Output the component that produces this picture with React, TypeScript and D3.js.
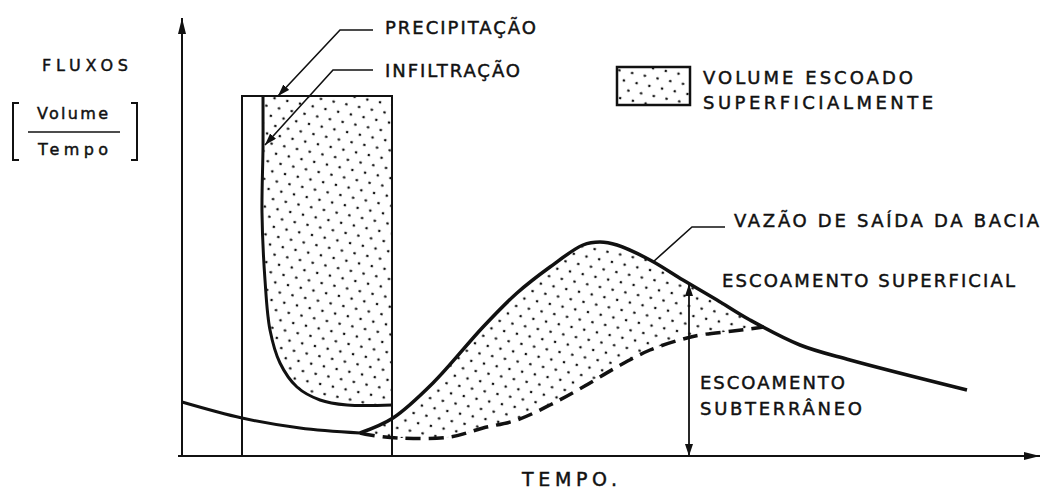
import * as d3 from 'd3';

// Hidrograma esquemático: precipitação, infiltração e escoamento
type Pt = [number, number]; // [tempo, vazão]

const rainStart = 6;
const rainEnd = 21;
const rainTop = 36;

const infiltration: Pt[] = [
  [8.1, 36], [8.1, 30.9], [8.0, 24.3], [8.3, 17.6], [8.8, 12.6],
  [9.8, 9.3], [11.5, 6.9], [13.8, 5.6], [16.5, 5.1], [21, 5.1],
];

const baseflowBefore: Pt[] = [
  [0, 5.4], [6, 3.8], [11.8, 2.8], [17.8, 2.3],
];

const baseflowDuring: Pt[] = [
  [17.8, 2.3], [18.8, 2.1], [21.8, 1.8], [26.8, 1.9], [30.1, 2.8],
  [33.5, 3.6], [36.8, 5.1], [40.1, 6.9], [43.5, 8.9], [46.8, 10.6],
  [50.1, 11.7], [51.8, 12.1], [55.1, 12.5], [58.2, 12.9],
];

const hydrograph: Pt[] = [
  [17.8, 2.3], [21.1, 3.8], [25.1, 7.3], [30.1, 12.9], [33.5, 16.3],
  [36.8, 18.9], [40.1, 21.1], [41.8, 21.4], [43.5, 21.1], [46.8, 19.6],
  [50.1, 17.6], [53.5, 15.6], [56.8, 13.6], [61.8, 11.1], [66.8, 9.6],
  [78.5, 6.6],
];

const arrowTime = 50.7;
const arrowTop = 17.2;
const runoffEnd = 58.2;

const x = d3.scaleLinear().domain([0, 86]).range([182, 1042]);
const y = d3.scaleLinear().domain([0, 36]).range([456, 96]);

const smooth = d3.line<Pt>().x(d => x(d[0])).y(d => y(d[1])).curve(d3.curveCatmullRom.alpha(0.5));
const straight = d3.line<Pt>().x(d => x(d[0])).y(d => y(d[1]));

const infiltArea = smooth(infiltration)! + 'L' + x(rainEnd) + ',' + y(rainTop) + 'Z';
const runoffArea = smooth(hydrograph)! + 'L' + smooth([...baseflowDuring].reverse())!.slice(1) + 'Z';

const INK = '#111';
const FONT = '"DejaVu Sans", sans-serif';

function Label({ t, q, w, size = 18, children }: { t: number; q: number; w: number; size?: number; children: string }) {
  return (
    <text x={x(t)} y={y(q)} fontSize={size} fontFamily={FONT} fill={INK} stroke={INK} strokeWidth={0.45}
      textLength={w} lengthAdjust="spacing">{children}</text>
  );
}

function Txt({ px, py, w, size = 18, children }: { px: number; py: number; w: number; size?: number; children: string }) {
  return (
    <text x={px} y={py} fontSize={size} fontFamily={FONT} fill={INK} stroke={INK} strokeWidth={0.45}
      textLength={w} lengthAdjust="spacing">{children}</text>
  );
}

export default function App() {
  return (
    <svg width={1046} height={490} style={{ position: 'absolute', left: 0, top: 0, background: '#fff' }}>
      <defs>
        <pattern id="dots" width={13} height={18} patternUnits="userSpaceOnUse" patternTransform="rotate(12)">
          <circle cx={3} cy={3} r={1.3} fill={INK} />
          <circle cx={9.5} cy={12} r={1.3} fill={INK} />
        </pattern>
        <clipPath id="runoffClip">
          <rect x={x(0)} y={0} width={x(runoffEnd) - x(0)} height={490} />
        </clipPath>
        <marker id="axisHead" markerUnits="userSpaceOnUse" markerWidth={18} markerHeight={10}
          refX={16} refY={4} orient="auto">
          <path d="M0,0 L16,4 L0,8 Z" fill={INK} />
        </marker>
        <marker id="head" markerUnits="userSpaceOnUse" markerWidth={14} markerHeight={10}
          refX={12} refY={4} orient="auto">
          <path d="M0,0 L12,4 L0,8 Z" fill={INK} />
        </marker>
        <marker id="headStart" markerUnits="userSpaceOnUse" markerWidth={14} markerHeight={10}
          refX={0} refY={4} orient="auto">
          <path d="M12,0 L0,4 L12,8 Z" fill={INK} />
        </marker>
      </defs>

      {/* areas pontilhadas */}
      <path d={infiltArea} fill="url(#dots)" />
      <path d={runoffArea} fill="url(#dots)" clipPath="url(#runoffClip)" />

      {/* eixos */}
      <line x1={x(0)} y1={y(0)} x2={x(0)} y2={y(43.8)} stroke={INK} strokeWidth={2} markerEnd="url(#axisHead)" />
      <line x1={x(-0.4)} y1={y(0)} x2={x(85.8)} y2={y(0)} stroke={INK} strokeWidth={2} markerEnd="url(#axisHead)" />

      {/* bloco de precipitação */}
      <path d={straight([[rainStart, 0], [rainStart, rainTop], [rainEnd, rainTop], [rainEnd, 0]])!}
        fill="none" stroke={INK} strokeWidth={2} />

      {/* curvas */}
      <path d={smooth(infiltration)!} fill="none" stroke={INK} strokeWidth={3} />
      <path d={smooth(baseflowBefore)!} fill="none" stroke={INK} strokeWidth={3} />
      <path d={smooth(baseflowDuring)!} fill="none" stroke={INK} strokeWidth={3.5} strokeDasharray="15 8" />
      <path d={smooth(hydrograph)!} fill="none" stroke={INK} strokeWidth={3.5} />

      {/* seta escoamento subterrâneo */}
      <line x1={x(arrowTime)} y1={y(arrowTop)} x2={x(arrowTime)} y2={y(0)} stroke={INK} strokeWidth={1.8}
        markerStart="url(#headStart)" markerEnd="url(#head)" />

      {/* chamadas */}
      <path d={straight([[19.1, 42.6], [15.8, 42.6], [9.6, 36]])!} fill="none" stroke={INK} strokeWidth={1.6} markerEnd="url(#head)" />
      <path d={straight([[19.1, 38.6], [15.1, 38.6], [8.3, 31.1]])!} fill="none" stroke={INK} strokeWidth={1.6} markerEnd="url(#head)" />
      <path d={straight([[54.3, 22.9], [51.0, 22.9], [47.1, 19.4]])!} fill="none" stroke={INK} strokeWidth={1.6} />

      {/* legenda */}
      <rect x={617} y={67} width={73} height={38} fill="url(#dots)" stroke={INK} strokeWidth={2.5} />
      <Txt px={703} py={84} w={210}>VOLUME ESCOADO</Txt>
      <Txt px={703} py={109} w={230}>SUPERFICIALMENTE</Txt>

      {/* rótulos */}
      <Label t={20.3} q={42.25} w={151}>PRECIPITAÇÃO</Label>
      <Label t={20.3} q={37.95} w={135}>INFILTRAÇÃO</Label>
      <Label t={55.2} q={22.9} w={305}>VAZÃO DE SAÍDA DA BACIA</Label>
      <Label t={54.0} q={16.9} w={293}>ESCOAMENTO SUPERFICIAL</Label>
      <Label t={51.8} q={6.7} w={145}>ESCOAMENTO</Label>
      <Label t={51.8} q={4.1} w={162}>SUBTERRÂNEO</Label>

      {/* eixo y */}
      <Txt px={42} py={71} w={86} size={16}>FLUXOS</Txt>
      <path d="M19,103 H13 V160 H19" fill="none" stroke={INK} strokeWidth={2} />
      <path d="M131,103 H137 V160 H131" fill="none" stroke={INK} strokeWidth={2} />
      <Txt px={37} py={119} w={71} size={16}>Volume</Txt>
      <line x1={28} y1={132} x2={120} y2={132} stroke={INK} strokeWidth={1.6} />
      <Txt px={38} py={155} w={70} size={16}>Tempo</Txt>

      {/* eixo x */}
      <Txt px={522} py={486} w={95} size={19}>TEMPO.</Txt>
    </svg>
  );
}
